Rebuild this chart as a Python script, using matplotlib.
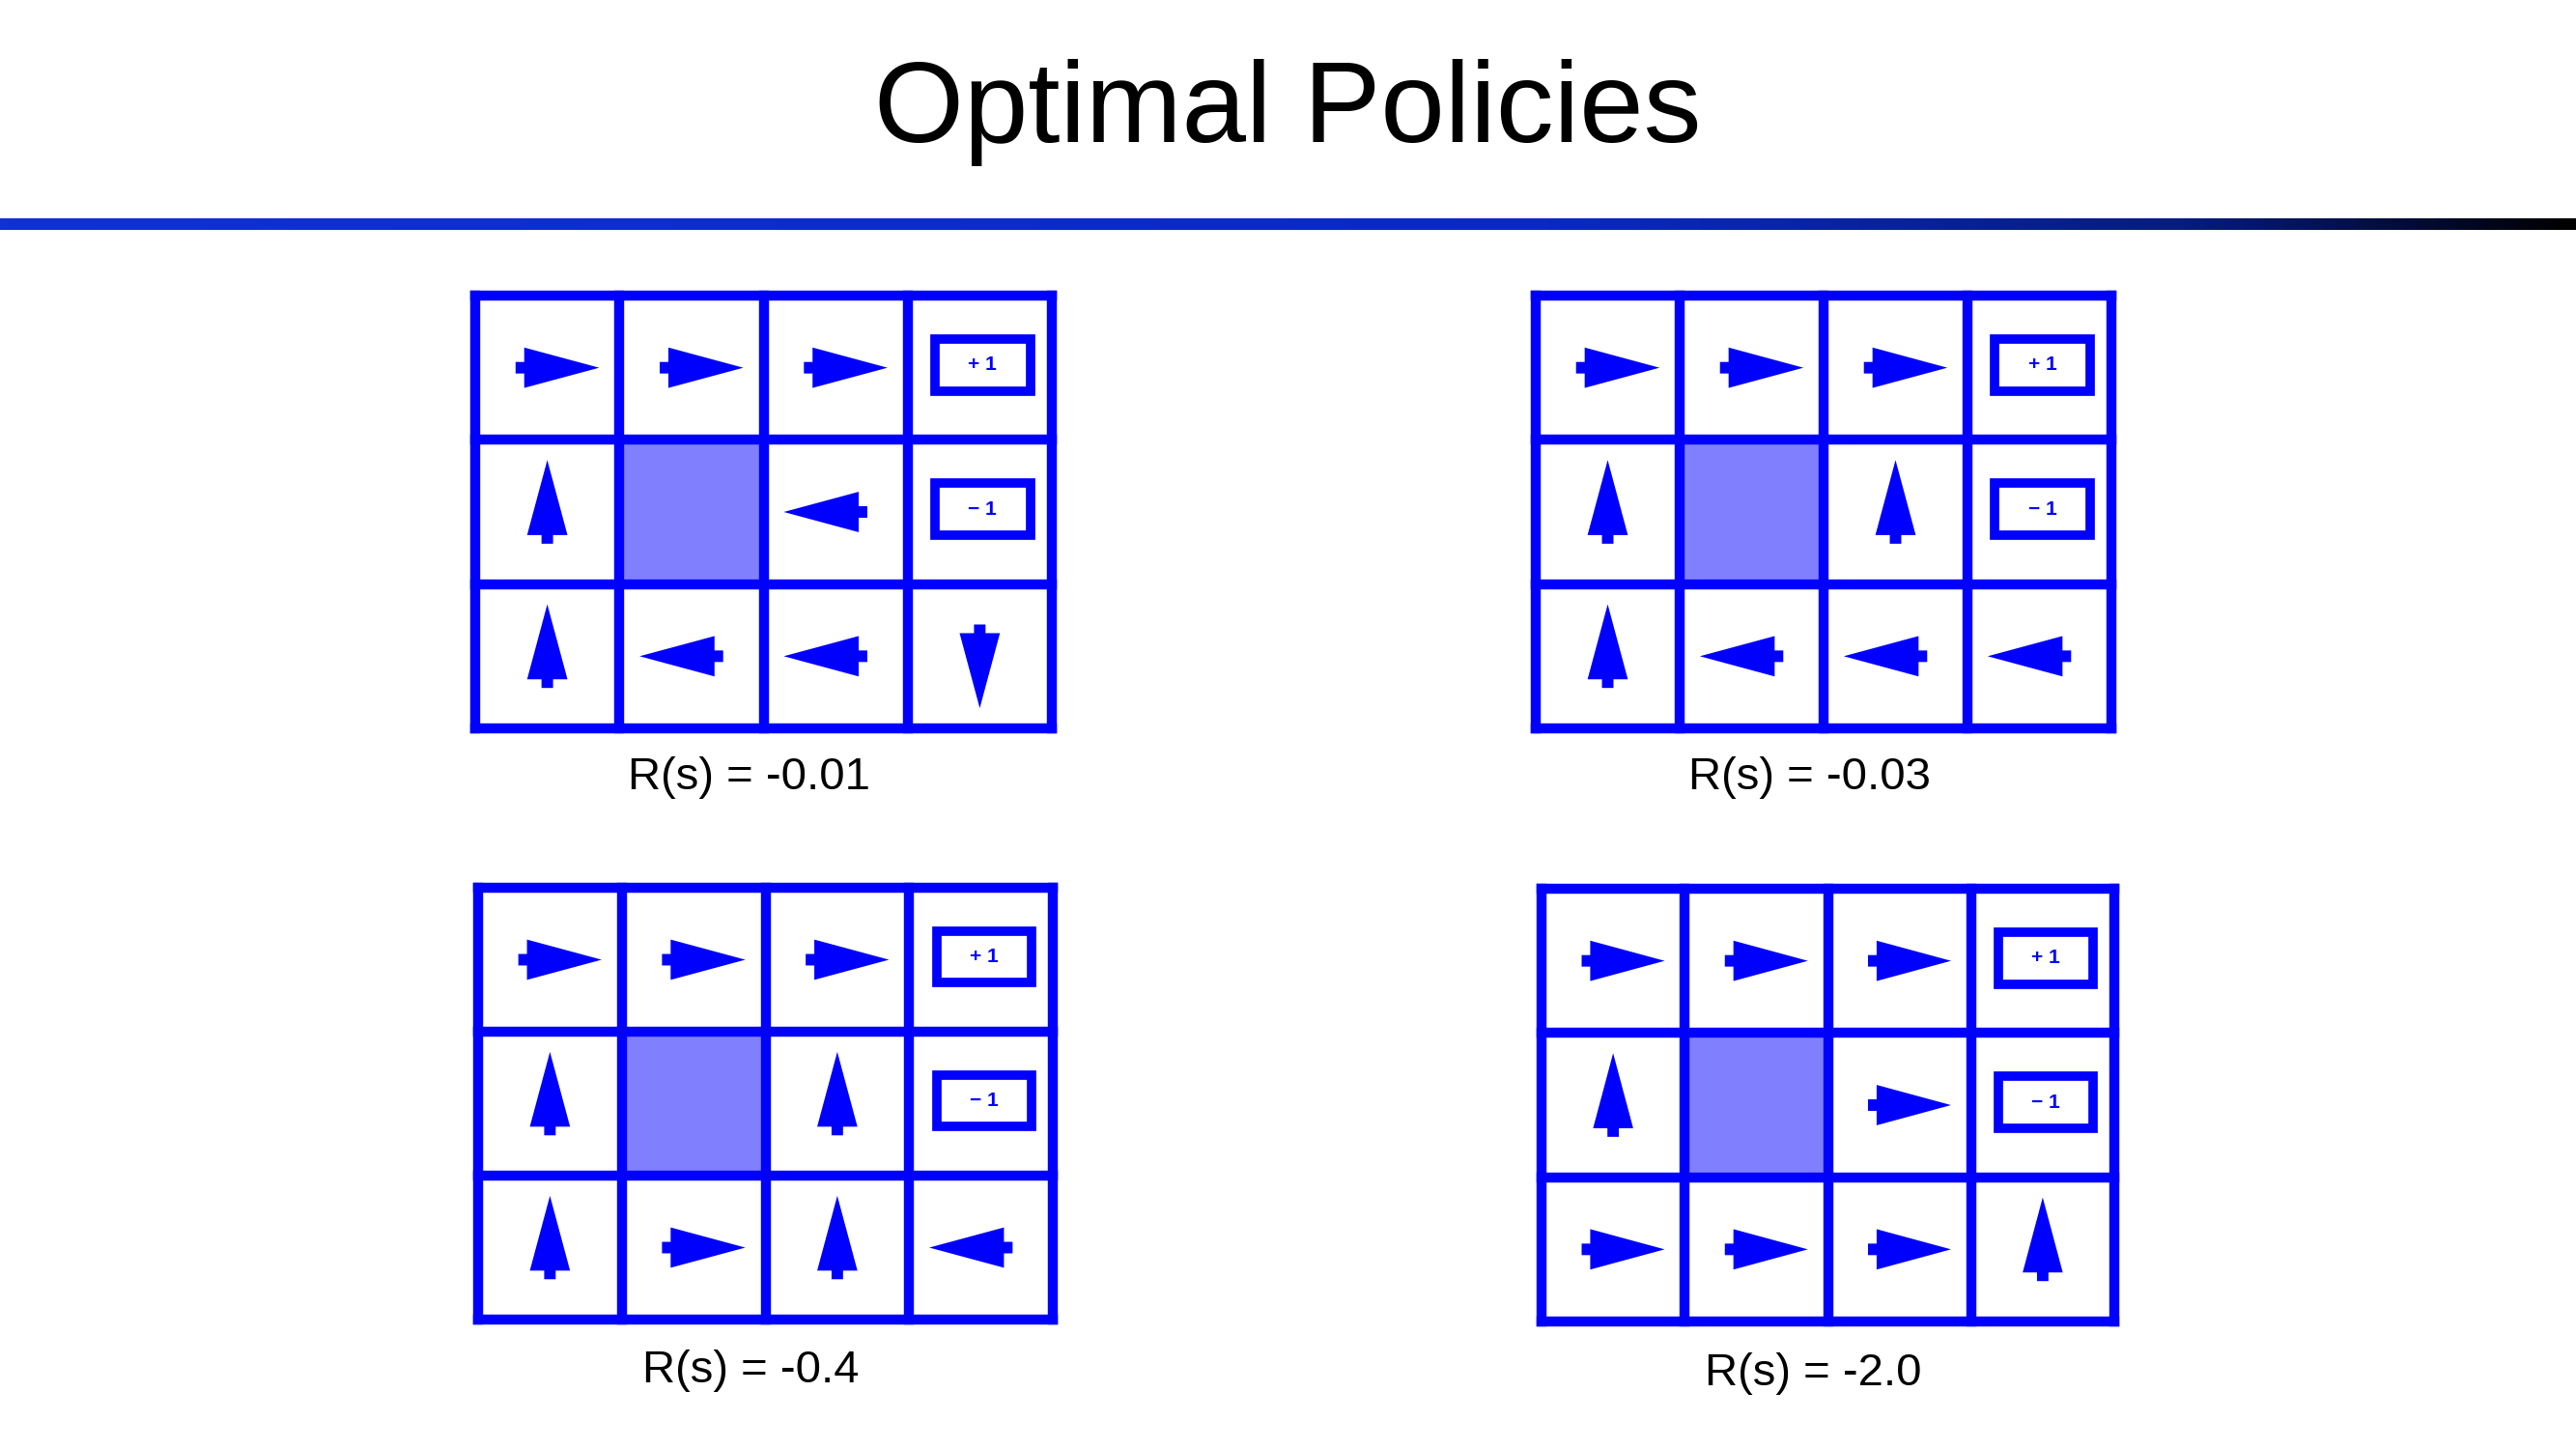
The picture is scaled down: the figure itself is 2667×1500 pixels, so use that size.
import matplotlib
matplotlib.use("Agg")
import matplotlib.pyplot as plt
import numpy as np
from matplotlib.patches import Rectangle, Polygon
from matplotlib.colors import LinearSegmentedColormap

title = "Optimal Policies"
labels = ["R(s) = -0.01", "R(s) = -0.03", "R(s) = -0.4", "R(s) = -2.0"]
policies = [
    [["R", "R", "R", "+"], ["U", "W", "L", "-"], ["U", "L", "L", "D"]],
    [["R", "R", "R", "+"], ["U", "W", "U", "-"], ["U", "L", "L", "L"]],
    [["R", "R", "R", "+"], ["U", "W", "U", "-"], ["U", "R", "U", "L"]],
    [["R", "R", "R", "+"], ["U", "W", "R", "-"], ["R", "R", "R", "U"]],
]
# grid pixel boxes (x0, y0_top, x1, y1_bottom) and label y
boxes = [(492, 306, 1089, 754), (1590, 306, 2186, 754),
         (495, 919, 1090, 1366), (1596, 920, 2189, 1368)]
label_y = [805, 805, 1419, 1422]

W, H = 2667, 1500
BLUE = "#0000ff"
fig = plt.figure(figsize=(W / 100, H / 100), dpi=100)
fig.patch.set_facecolor("white")
fam = ["Liberation Sans", "DejaVu Sans"]

fig.text(0.5, 1 - 116 / H, title, ha="center", va="center", fontsize=86,
         family=fam, color="black")

# gradient rule
gax = fig.add_axes([0, 1 - 238 / H, 1, 12 / H])
cmap = LinearSegmentedColormap.from_list("g", [(0, "#1030d8"), (0.6, "#0a28c8"),
                                               (0.85, "#061c80"), (1, "#000000")])
gax.imshow(np.linspace(0, 1, 512)[None, :], aspect="auto", cmap=cmap)
gax.axis("off")

def arrow_poly(d, cx, cy):
    pts = [(0.36, 0), (-0.16, 0.14), (-0.16, 0.04), (-0.22, 0.04),
           (-0.22, -0.04), (-0.16, -0.04), (-0.16, -0.14)]
    ang = {"R": 0, "U": np.pi / 2, "L": np.pi, "D": -np.pi / 2}[d]
    c, s = np.cos(ang), np.sin(ang)
    return [(cx + x * c - y * s, cy + x * s + y * c) for x, y in pts]

for k, (pol, (x0, y0, x1, y1)) in enumerate(zip(policies, boxes)):
    ax = fig.add_axes([x0 / W, 1 - y1 / H, (x1 - x0) / W, (y1 - y0) / H])
    ax.set_xlim(0, 4)
    ax.set_ylim(0, 3)
    ax.axis("off")
    for r, row in enumerate(pol):
        for c, a in enumerate(row):
            cx, cy = c + 0.5, 2 - r + 0.5
            if a == "W":
                ax.add_patch(Rectangle((c, 2 - r), 1, 1, color="#8080ff", lw=0))
            elif a in "+-":
                ax.add_patch(Rectangle((cx - 0.31, cy - 0.16), 0.66, 0.36,
                                       fill=False, ec=BLUE, lw=7))
                ax.text(cx + 0.02, cy + 0.02, "+ 1" if a == "+" else "− 1",
                        ha="center", va="center", fontsize=15, color=BLUE,
                        family=fam, fontweight="bold")
            else:
                ax.add_patch(Polygon(arrow_poly(a, cx, cy), closed=True,
                                     color=BLUE, lw=0))
    for i in range(5):
        ax.plot([i, i], [0, 3], color=BLUE, lw=7.5, solid_capstyle="projecting")
    for j in range(4):
        ax.plot([0, 4], [j, j], color=BLUE, lw=7.5, solid_capstyle="projecting")
    for ln in ax.lines:
        ln.set_clip_on(False)
    fig.text(((x0 + x1) / 2 - 15) / W, 1 - label_y[k] / H, labels[k], ha="center",
             va="center", fontsize=34, family=fam, color="black")

fig.savefig("out.png", dpi=100, facecolor="white")
